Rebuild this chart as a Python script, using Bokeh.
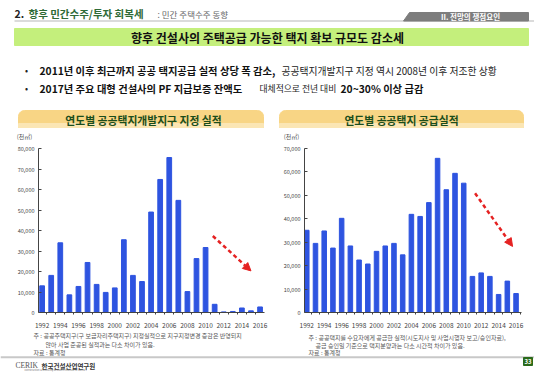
from bokeh.plotting import figure
from bokeh.layouts import column, row
from bokeh.models import Range1d, FixedTicker, NumeralTickFormatter, Arrow, NormalHead
from bokeh.embed import file_html
from bokeh.resources import INLINE
from bokeh.core.properties import value
import numpy as np

# ---------------- data ----------------
years = list(range(1992, 2017))
designation = [13000, 18100, 34000, 8600, 12700, 24400, 13700, 9800, 12000, 35500,
               18100, 15100, 49000, 64900, 75600, 54700, 10200, 26300, 31700, 4000,
               300, 500, 2200, 800, 2700]
supply = [35100, 29500, 34800, 27500, 40200, 28400, 22400, 20700, 26100, 28400,
          29500, 24600, 41900, 41000, 46900, 65800, 52400, 59400, 55200, 15400,
          16900, 15400, 7700, 13400, 8100]
tick_years = list(range(1992, 2017, 2))
left_ymax = 80000
right_ymax = 70000
left_arrow = [(2010.8, 37300), (2015.0, 20300)]
right_arrow = [(2011.3, 50900), (2015.6, 28200)]

header_no = "2."
header_main = "향후 민간수주/투자 회복세"
header_sub = ": 민간 주택수주 동향"
tab_text = "II. 전망의 쟁점요인"
banner_text = "향후 건설사의 주택공급 가능한 택지 확보 규모도 감소세"
b1_bold = "2011년 이후 최근까지 공공 택지공급 실적 상당 폭 감소,"
b1_reg = "공공택지개발지구 지정 역시 2008년 이후 저조한 상황"
b2_bold = "2017년 주요 대형 건설사의 PF 지급보증 잔액도"
b2_reg = "대체적으로 전년 대비"
b2_bold2 = "20~30% 이상 급감"
left_title = "연도별 공공택지개발지구 지정 실적"
right_title = "연도별 공공택지 공급실적"
unit = "(천㎡)"
left_note = ["주 : 공공주택지구(구 보금자리주택지구) 지정실적으로 지구지정변경 증감은 반영되지",
             "않아 사업 준공된 실적과는 다소 차이가 있음.", "자료 : 통계청"]
right_note = ["주 : 공공택지를 수요자에게 공급한 실적(시도지사 및 사업시행자 보고/승인자료),",
              "공급 승인일 기준으로 택지분양과는 다소 시간적 차이가 있음.", "자료 : 통계청"]

FONT = value("Noto Sans CJK KR")
BLUE = "#2e54e0"
RED = "#e52222"
W = 534


def txt(p, x, y, s, size, color="#222222", bold=False, align="left"):
    p.text(x=[x], y=[y], text=[s], text_font=FONT, text_font_size=size,
           text_color=color, text_font_style="bold" if bold else "normal",
           text_align=align, text_baseline="middle")


def blank(width, height, y0, y1):
    p = figure(width=width, height=height, x_range=Range1d(0, 534), y_range=Range1d(y1, y0),
               output_backend="svg", toolbar_location=None, min_border=0,
               x_axis_location=None, y_axis_location=None)
    p.grid.visible = False
    p.outline_line_color = None
    return p


def rounded_top(x0, x1, y0, y1, r):
    a = np.linspace(np.pi, 1.5 * np.pi, 8)
    xs = [x0] + list(x0 + r + r * np.cos(a))
    ys = [y1] + list(y0 + r + r * np.sin(a))
    a2 = np.linspace(1.5 * np.pi, 2 * np.pi, 8)
    xs += list(x1 - r + r * np.cos(a2)) + [x1]
    ys += list(y0 + r + r * np.sin(a2)) + [y1]
    return xs, ys


# ---------------- top figure ----------------
top = blank(W, 140, 0, 140)
txt(top, 14, 13, header_no, "10.5px", "#222222", True)
txt(top, 28, 13, header_main, "10.5px", "#2e6a36", True)
txt(top, 157, 13, header_sub, "8.5px", "#666666")
top.line(x=[14, 534], y=[20.5, 20.5], line_color="#cfcfcf", line_width=1.5)
top.patch(x=[403, 409, 528, 528], y=[20.5, 12, 12, 20.5], color="#7d7d7d")
txt(top, 470, 16, tab_text, "7.5px", "#ffffff", True, "center")
top.quad(left=[14], right=[528], top=[28], bottom=[45], color="#c4ef7c")
txt(top, 267, 37, banner_text, "12px", "#111111", True, "center")
for yy in (70, 88):
    txt(top, 26, yy, "•", "9px", "#222222", False, "center")
txt(top, 39, 70, b1_bold, "10.3px", "#111111", True)
txt(top, 281, 70, b1_reg, "9.8px", "#222222")
txt(top, 39, 88, b2_bold, "10.3px", "#111111", True)
txt(top, 259, 88, b2_reg, "8.8px", "#222222")
txt(top, 340, 88, b2_bold2, "10.3px", "#111111", True)
for (x0, x1, cx, t) in ((18, 263, 143, left_title), (279, 523, 401, right_title)):
    xs, ys = rounded_top(x0, x1, 110, 127, 6)
    top.patch(x=xs, y=ys, color="#f8d585")
    top.quad(left=[x0], right=[x1], top=[123], bottom=[127], color="#fbe6b4")
    txt(top, cx, 119, t, "10.8px", "#1b4d1b", True, "center")
txt(top, 24, 136, unit, "6px", "#555555", False, "center")
txt(top, 291, 136, unit, "6px", "#555555", False, "center")


# ---------------- charts ----------------
def chart(vals, ymax, xr, width, lb, rb, arrow):
    p = figure(width=width, height=190, x_range=Range1d(*xr), y_range=Range1d(0, ymax),
               output_backend="svg", toolbar_location=None,
               min_border_left=lb, min_border_right=rb, min_border_top=8, min_border_bottom=15)
    p.vbar(x=years, top=vals, width=0.52, color=BLUE)
    p.grid.visible = False
    p.outline_line_color = None
    xa = p.xaxis[0]
    xa.ticker = FixedTicker(ticks=tick_years, minor_ticks=[y - 0.5 for y in years] + [years[-1] + 0.5])
    xa.major_tick_line_color = None
    xa.minor_tick_out = 2
    xa.minor_tick_in = 0
    xa.minor_tick_line_color = "#444444"
    xa.major_label_standoff = 4
    xa.major_label_text_font = "Noto Sans CJK KR"
    xa.major_label_text_font_size = "6.5px"
    xa.major_label_text_color = "#444444"
    xa.axis_line_color = "#444444"
    ya = p.yaxis[0]
    ya.ticker = FixedTicker(ticks=list(range(0, ymax + 1, 10000)))
    ya.formatter = NumeralTickFormatter(format="0,0")
    ya.major_tick_in = 3
    ya.major_tick_out = 0
    ya.minor_tick_line_color = None
    ya.major_label_standoff = 4
    ya.major_label_text_font = "Noto Sans CJK KR"
    ya.major_label_text_font_size = "5.5px"
    ya.major_label_text_color = "#444444"
    ya.axis_line_color = "#444444"
    ya.major_tick_line_color = "#444444"
    (xs, ys), (xe, ye) = arrow
    p.add_layout(Arrow(x_start=xs, y_start=ys, x_end=xe, y_end=ye, line_color=RED,
                       line_width=2.5, line_dash="4 3",
                       end=NormalHead(size=8, fill_color=RED, line_color=RED)))
    return p


left = chart(designation, left_ymax, (1991.6, 1991.6 + 226 / 9.08), 270, 38, 6, left_arrow)
right = chart(supply, right_ymax, (1991.74, 1991.74 + 217 / 8.72), 264, 34, 13, right_arrow)

# ---------------- bottom figure ----------------
bot = blank(W, 42, 330, 372)
for (x0, x1, note, ys) in ((33, 45, left_note, (335, 343.5, 351.5)),
                           (308, 315, right_note, (337, 345, 352))):
    txt(bot, x0, ys[0], note[0], "6px", "#555555")
    txt(bot, x1, ys[1], note[1], "6px", "#555555")
    txt(bot, x0, ys[2], note[2], "6px", "#555555")
bot.line(x=[0, 534], y=[356.7, 356.7], line_color="#c8c8c8", line_width=2)
bot.text(x=[15], y=[365], text=["CERIK"], text_font=value("Liberation Serif"),
         text_font_size="7.5px", text_color="#555555", text_baseline="middle")
txt(bot, 41, 365, "한국건설산업연구원", "6.5px", "#333333", True)
txt(bot, 24, 369.8, "Construction & Economy Research Institute of Korea", "2.5px", "#777777")
bot.quad(left=[523], right=[532], top=[357], bottom=[365], color="#2a6a1a")
txt(bot, 527.5, 361, "33", "6px", "#ffffff", True, "center")

layout = column(top, row(left, right), bot)
open("out.html", "w").write(file_html(layout, INLINE))
